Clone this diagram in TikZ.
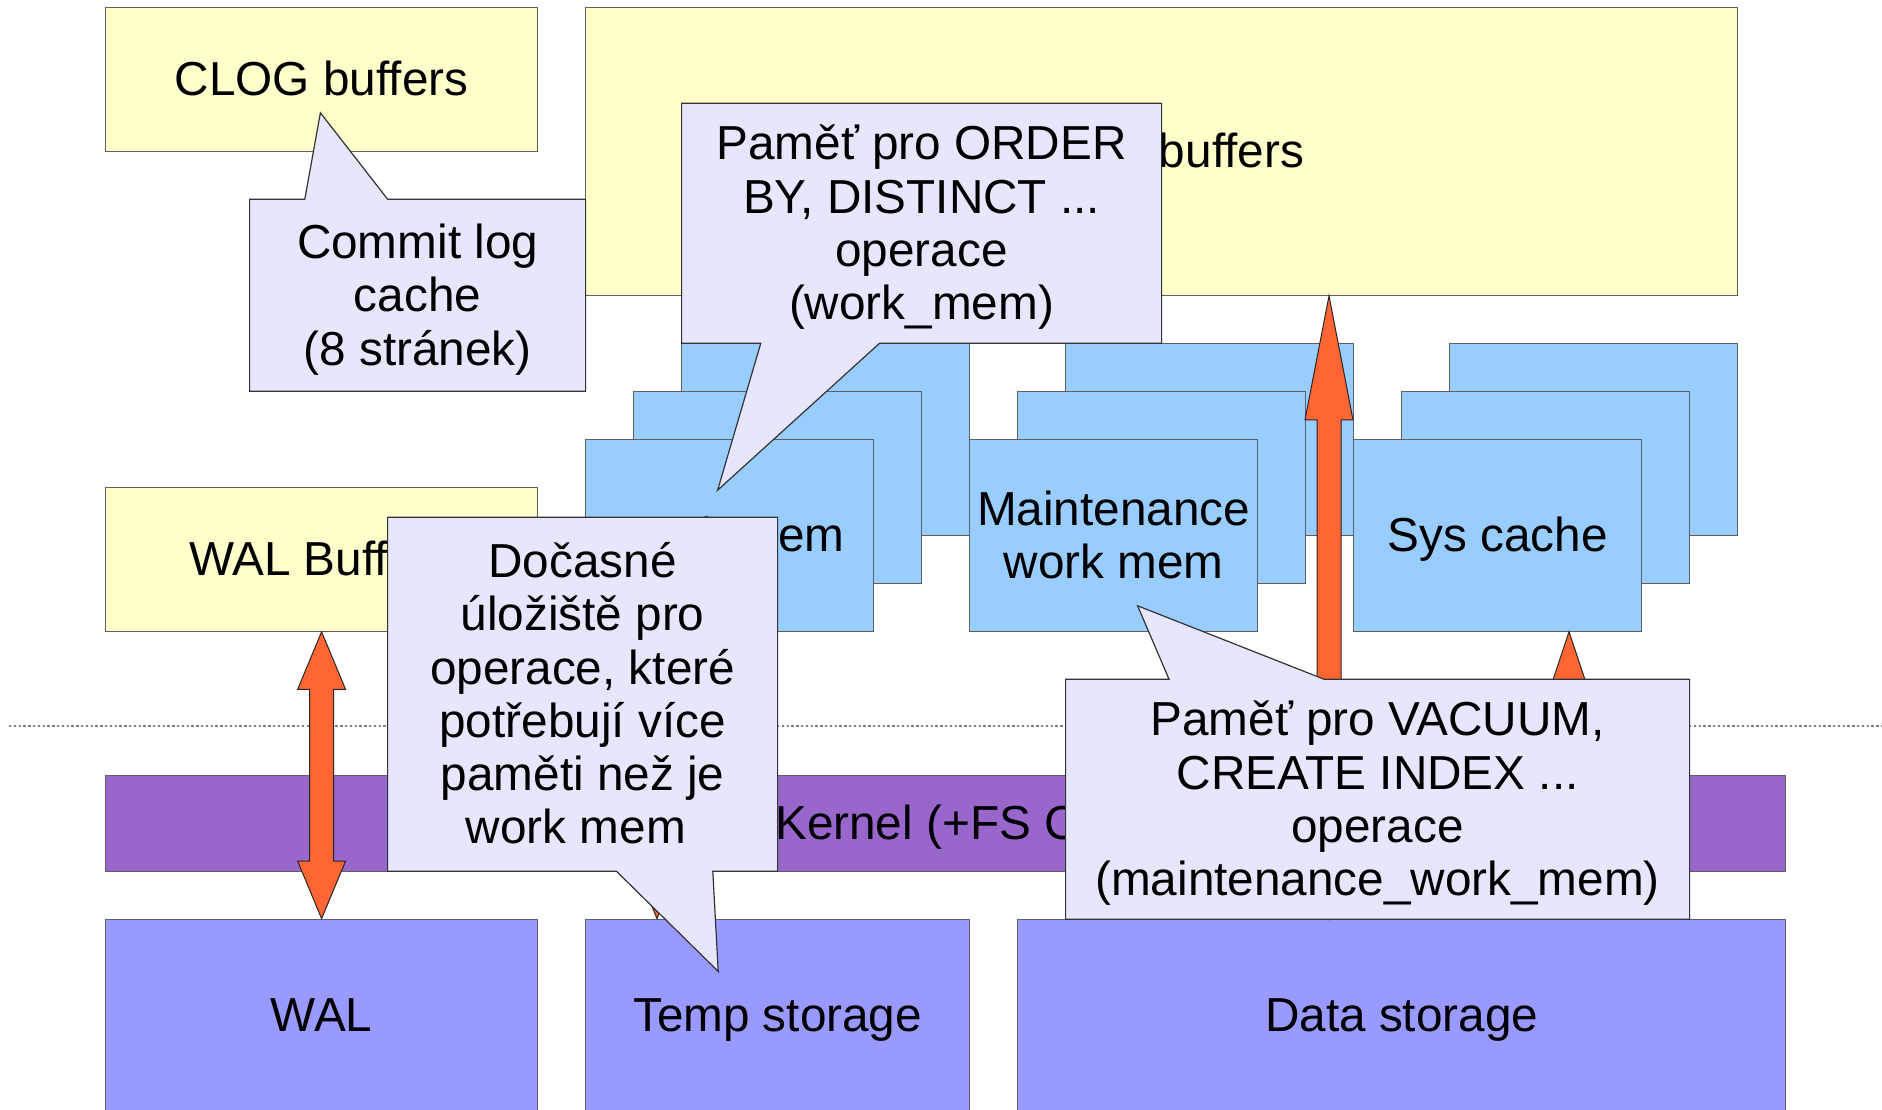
\documentclass[tikz,border=0pt]{standalone}
\usepackage{fontspec}
\setmainfont{Liberation Sans}
\usetikzlibrary{calc}

\definecolor{paleyellow}{HTML}{FFFFCC}
\definecolor{skyblue}{HTML}{99CCFF}
\definecolor{kernelviolet}{HTML}{9966CC}
\definecolor{diskblue}{HTML}{9999FF}
\definecolor{notefill}{HTML}{E6E6FF}
\definecolor{flow}{HTML}{FF6633}
\definecolor{edgegray}{HTML}{5F5F5F}
\definecolor{notedge}{HTML}{333333}

% label font; lines keep a fixed baseline distance
\newcommand\labelfont{\fontsize{23.85}{26.64}\selectfont\lineskiplimit=-\maxdimen}
% strut giving each line the full ascent + descent
\newcommand\ls{\rule[-0.212em]{0pt}{1.117em}}

% vertical block arrow with a head at both ends
% #1 upper tip, #2 lower tip (same x), #3/#4 head lengths
\newcommand\dblarrow[4]{%
  \filldraw[blockarrow] let \p1=#1, \p2=#2 in
    (\x1,\y1) -- (\x1+12pt,\y1-#3) -- (\x1+6pt,\y1-#3) -- (\x1+6pt,\y2+#4)
    -- (\x1+12pt,\y2+#4) -- (\x1,\y2) -- (\x1-12pt,\y2+#4) -- (\x1-6pt,\y2+#4)
    -- (\x1-6pt,\y1-#3) -- (\x1-12pt,\y1-#3) -- cycle;}

\tikzset{
  txt/.style={font=\labelfont, align=center, inner sep=0pt, text=black},
  plainbox/.style={txt, draw=edgegray, line width=0.6pt, rectangle},
  sz/.style 2 args={minimum width=#1, minimum height=#2},
  buf/.style={plainbox, fill=paleyellow},
  mem/.style={plainbox, fill=skyblue, sz={144pt}{96pt}},
  kern/.style={plainbox, fill=kernelviolet},
  disk/.style={plainbox, fill=diskblue},
  note/.style={fill=notefill, draw=notedge, line width=0.6pt, line join=miter},
  blockarrow/.style={fill=flow, draw=black!85, line width=0.5pt, line join=miter},
  divider/.style={draw=gray, line width=0.6pt, dash pattern=on 1.2pt off 1.2pt}
}

\begin{document}
\begin{tikzpicture}[x=0.5pt,y=-0.5pt]
\useasboundingbox (0,0) rectangle (1882,1109);
\clip (0,0) rectangle (1882,1109);
\fill[white] (0,0) rectangle (1882,1109);

% boundary between process memory and the OS
\draw[divider] (9,726) -- (1882,726);

% shared memory areas
\node[buf, sz={216pt}{72pt}] (clog) at (321.6,79.2) {\ls CLOG buffers};
\node[buf, sz={576pt}{144pt}] (shared) at (1161.6,151.2) {};
\node[txt, anchor=east] (sharedlabel) at (1304.4,151.2) {\ls Shared buffers};
\node[buf, sz={216pt}{72pt}] (walbuf) at (321.6,559.2) {\ls WAL Buffers};

% per-backend memory, three stacked copies each
\node[mem] (wm3) at (825.6,439.2) {};
\node[mem] (wm2) at (777.6,487.2) {};
\node[mem] (wm1) at (729.6,535.2) {\ls Work mem};

\node[mem] (mt3) at (1209.6,439.2) {};
\node[mem] (mt2) at (1161.6,487.2) {};
\node[mem] (mt1) at (1113.6,535.2) {\ls Maintenance\\\ls work mem};

\node[mem] (sc3) at (1593.6,439.2) {};
\node[mem] (sc2) at (1545.6,487.2) {};
\node[mem] (sc1) at (1497.6,535.2) {\ls Sys cache};

% kernel and storage
\node[kern, sz={840pt}{48pt}] (kernel) at (945.6,823.2) {\ls OS Kernel (+FS Cache)};
\node[disk, sz={216pt}{96pt}] (wal) at (321.6,1015.2) {\ls WAL};
\node[disk, sz={192pt}{96pt}] (tmp) at (777.6,1015.2) {\ls Temp storage};
\node[disk, sz={384pt}{96pt}] (dat) at (1401.6,1015.2) {\ls Data storage};

% data flows
\dblarrow{(walbuf.south)}{(wal.north)}{28.8pt}{28.8pt}
\coordinate (wmx) at ($(wm1.south west)+(72,0)$);
\dblarrow{(wmx)}{(wmx |- tmp.north)}{28.8pt}{28.8pt}
\coordinate (bigx) at ($(dat.north west)+(312,0)$);
\dblarrow{(bigx |- shared.south)}{(bigx)}{62pt}{62pt}
\coordinate (sysx) at ($(sc1.south west)+(216,0)$);
\dblarrow{(sysx)}{(sysx |- dat.north)}{36pt}{36pt}

% explanatory notes
\filldraw[note] (249.6,199.2) -- (304.8,199.2) -- (320.4,112.8) -- (387.6,199.2)
  -- (585.6,199.2) -- (585.6,391.2) -- (249.6,391.2) -- cycle
  (417.6,295.2) node[txt] (commitnote) {\ls Commit log\\\ls cache\\\ls (8 stránek)};

\filldraw[note] (681.6,103.2) -- (1161.6,103.2) -- (1161.6,343.2) -- (879.6,343.2)
  -- (717.6,490.2) -- (760.8,343.2) -- (681.6,343.2) -- cycle
  (921.6,223.2) node[txt] (ordernote) {\ls Paměť pro ORDER\\\ls BY, DISTINCT ...\\\ls operace\\\ls (work\_mem)};

\filldraw[note] (387.6,517.2) -- (777.6,517.2) -- (777.6,871.2) -- (712.8,871.2)
  -- (718.2,971.4) -- (616.4,871.2) -- (387.6,871.2) -- cycle
  (582.6,694.2) node[txt] (tempnote) {\ls Dočasné\\\ls úložiště pro\\\ls operace, které\\\ls potřebují více\\\ls paměti než je\\\ls work mem\kern0.278em};

\filldraw[note] (1065.6,679.2) -- (1169,679.2) -- (1137.6,605.8) -- (1324,679.2)
  -- (1689.6,679.2) -- (1689.6,919.2) -- (1065.6,919.2) -- cycle
  (1377.6,799.2) node[txt] (vacuumnote) {\ls Paměť pro VACUUM,\\\ls CREATE INDEX ...\\\ls operace\\\ls (maintenance\_work\_mem)};
\end{tikzpicture}
\end{document}
